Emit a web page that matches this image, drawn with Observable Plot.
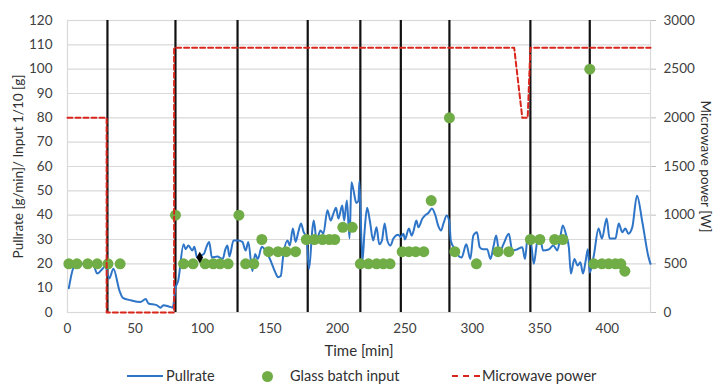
<!DOCTYPE html>
<html>
<head>
<meta charset="utf-8">
<script src="https://cdn.jsdelivr.net/npm/d3@7"></script>
<script src="https://cdn.jsdelivr.net/npm/@observablehq/plot@0.6"></script>
<style>
  html, body { margin: 0; padding: 0; background: #fff; }
  body { width: 713px; height: 385px; overflow: hidden; font-family: Lato, "Open Sans", sans-serif; }
  #legend { position: relative; height: 23px; font-size: 14.5px; color: #303030; }
  #legend > * { position: absolute; }
  #legend span { top: 4px; line-height: 20px; white-space: nowrap; }
</style>
</head>
<body>
<div id="chart"></div>
<div id="legend">
  <div style="left:127px;top:13px;width:36px;border-top:2px solid #2e75c8;"></div>
  <span style="left:166px;">Pullrate</span>
  <div style="left:262px;top:9px;width:11px;height:11px;border-radius:50%;background:#70ad47;"></div>
  <span style="left:290px;">Glass batch input</span>
  <div style="left:452px;top:13px;width:28px;border-top:2px dashed #d9261c;"></div>
  <span style="left:482px;">Microwave power</span>
</div>
<script>
// ---- data ----
const pullTime = [1,4.5,8,12,16,19,22,26,28,31,34,38.5,41,47,54,58,60,66,69,71,75,78,80,82,86,87.5,89.6,92.5,94,96,99,101,103,105,107,111,115,117,118.5,120,123,126.5,129.6,132,134,137,139,141,144,146.7,150,154,156,158,160,163,164.7,167,169,171,173,175,177,179,181.5,182.5,184.6,187.4,189.6,192.6,195,197,199,200.7,203.6,205,207,209,210.4,212,214,215.6,216.3,218.5,220,222,224,226.5,229,231,233,235,237,239.3,241.5,245,247,249,250,253,255,256.5,258.5,260,263,265,267.6,270,272.6,274.6,276.8,278.6,281,283,284,287,289.6,292,295.5,298.5,300.7,303.4,305.5,308,311,313.4,315.8,317.6,320,323,327,329.6,333,337,339,341,343.6,345.5,348,350,352.4,356.5,360,363,365,367,369.6,371.5,373,375.6,378,380,382,384,385.6,387,390,393.5,396,399.5,401.7,406,408.5,411,413.4,415.6,418.5,422,426,430.6,432];
const pullRate = [10,18.5,20,20,20.5,20,16,18,19,14,18,9,6,5,4.3,5.5,3.7,3,2,3,2.5,2,10,13,28,26,27.5,25.5,27,22.6,23.5,24,27,29,22.6,23,22,26,27.5,23,29.6,29.6,29,25.5,29,17,24,22,27,25.5,22,16.5,14.5,15,24,29.6,27.5,34.5,29,33,36.6,33,31,18,34.5,37.8,29.6,33.7,32.4,42,37.8,40.6,43,38.6,44,37.8,46,30.4,53.5,50,45,46,54,21,32.4,43,37.8,29.6,35,28,29.6,36.6,29.6,27.5,30.4,32,31,32.4,30,34.5,31.6,33.7,37.8,35,38.6,39.9,41,42.7,39.9,35.8,33.7,36.6,39.9,37,29.6,26,23.4,22.6,28,22,31.6,33,26.8,26,26,22,27.5,31.6,24.6,28,32.4,25.5,25.9,26.8,22,31,28,20,29,31,25.5,25.9,27.5,25.5,30.4,35.8,31.6,26.8,16,22,19.3,20.6,16,21.4,26,16.4,23.4,34.5,30.4,38.6,30.4,30.4,36.6,33,34.5,32.4,35,48,37,22.6,20];

const batchTime  = [1,7,15,22,30,39,80,86,93,102,108,113,119,127,132,138,144,149,156,162,169,177,183,189,194,198,204,211,217,223,229,234,239,248,253,258,264,269.5,283,287,303,319,327,343,350,361,367,387,390,396,401,406,410,413];
const batchInput = [20,20,20,20,20,20,40,20,20,20,20,20,20,40,20,20,30,25,25,25,25,30,30,30,30,30,35,35,20,20,20,20,20,25,25,25,25,46,80,25,20,25,25,30,30,30,30,100,20,20,20,20,20,17];

const markTime = [98];
const markValue = [22.6];

const powerTime = [0,29,29,79,79,331,337,341,343,432];
const powerW    = [2000,2000,0,0,2720,2720,2000,2000,2720,2720];

const eventTimes = [29.6,80,126,178,217,247,283,343,387];

const xTicks = [0,50,100,150,200,250,300,350,400];
const yTicksLeft = [0,10,20,30,40,50,60,70,80,90,100,110,120];
const yTicksRight = [0,500,1000,1500,2000,2500,3000];
const wattsPerUnit = 25; // 3000 W on the right axis = 120 on the left axis

const pull = pullTime.map((t, i) => ({t, v: pullRate[i]}));
const batch = batchTime.map((t, i) => ({t, v: batchInput[i]}));
const marks = markTime.map((t, i) => ({t, v: markValue[i]}));
const power = powerTime.map((t, i) => ({t, w: powerW[i]}));

const textColor = "#404040";

const chart = Plot.plot({
  width: 713,
  height: 362,
  marginLeft: 67,
  marginRight: 63,
  marginTop: 20,
  marginBottom: 50,
  style: {fontFamily: "Lato, 'Open Sans', sans-serif", fontSize: "13px", color: textColor, background: "#fff", overflow: "visible"},
  x: {domain: [0, 432], axis: null},
  y: {domain: [0, 120], axis: null},
  marks: [
    Plot.gridY(yTicksLeft, {stroke: "#d9d9d9", strokeOpacity: 1, strokeWidth: 1.2}),
    Plot.frame({stroke: "#d9d9d9", strokeWidth: 1.2}),
    Plot.axisY(yTicksLeft, {anchor: "left", tickSize: 0, tickPadding: 15, label: null, fill: textColor, fontSize: 13.5}),
    Plot.axisY(yTicksRight.map(w => w / wattsPerUnit), {anchor: "right", tickSize: 5, tickPadding: 8, stroke: "#bfbfbf", label: null, tickFormat: d => String(Math.round(d * wattsPerUnit)), fill: textColor, fontSize: 13.5}),
    Plot.axisX(xTicks, {anchor: "bottom", tickSize: 0, tickPadding: 11, label: null, fill: textColor, fontSize: 13.5}),
    Plot.ruleX(eventTimes, {stroke: "#111", strokeWidth: 2.2}),
    Plot.line(pull, {x: "t", y: "v", stroke: "#2e75c8", strokeWidth: 2, curve: "monotone-x"}),
    Plot.dot(batch, {x: "t", y: "v", r: 5.5, fill: "#70ad47", stroke: "none"}),
    Plot.dot(marks, {x: "t", y: "v", r: 3.5, symbol: "diamond", fill: "#000"}),
    Plot.line(power, {x: "t", y: d => d.w / wattsPerUnit, stroke: "#d9261c", strokeWidth: 2, strokeDasharray: "5,3"}),
    Plot.text(["Time [min]"], {text: d => d, frameAnchor: "bottom", textAnchor: "middle", dy: 43, fontSize: 15, fill: "#303030"}),
    Plot.text(["Pullrate [g/min]/ Input 1/10 [g]"], {text: d => d, frameAnchor: "left", textAnchor: "middle", dx: -49, rotate: -90, fontSize: 13.5, fill: "#303030"}),
    Plot.text(["Microwave power [W]"], {text: d => d, frameAnchor: "right", textAnchor: "middle", dx: 55, rotate: 90, fontSize: 13.5, fill: "#303030"})
  ]
});
document.getElementById("chart").appendChild(chart);
</script>
</body>
</html>
